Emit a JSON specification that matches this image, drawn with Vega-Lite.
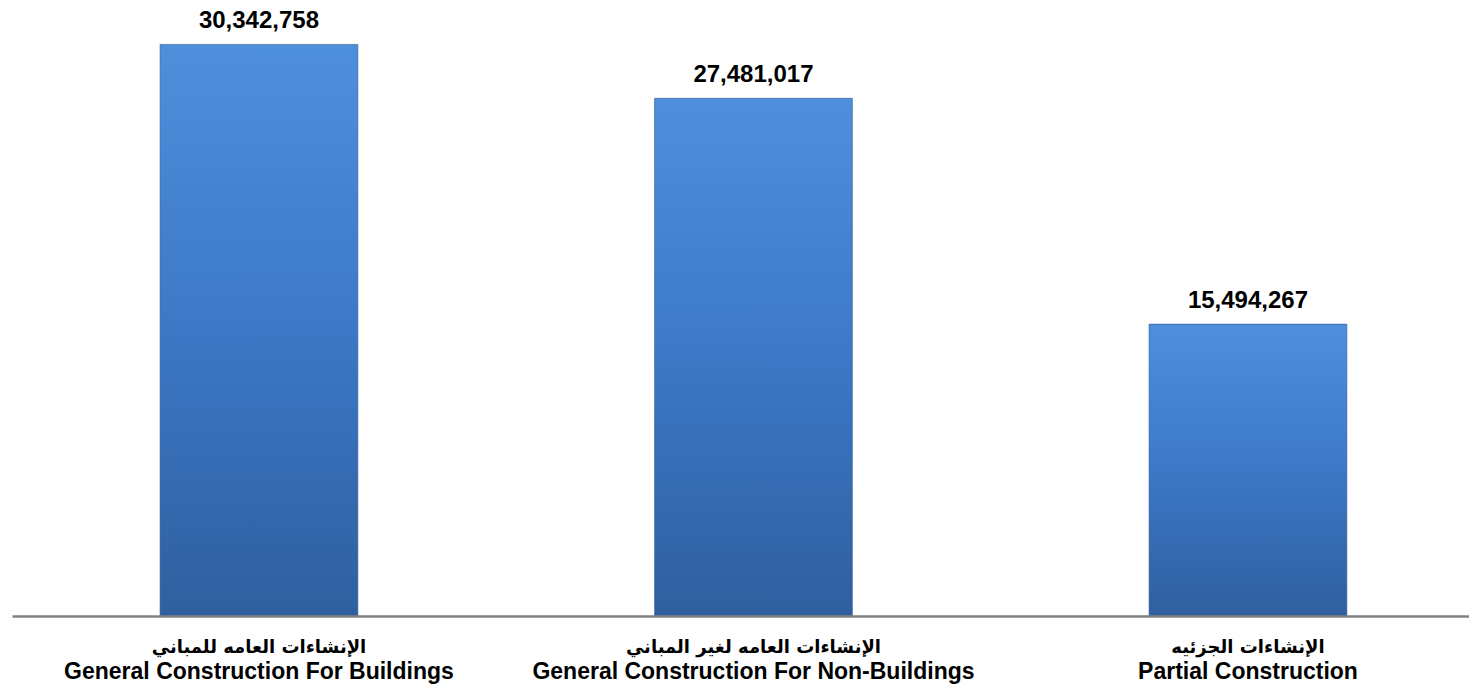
{
  "$schema": "https://vega.github.io/schema/vega-lite/v6.json",
  "autosize": {"type": "none"},
  "padding": {"left": 12, "top": 0, "right": 0, "bottom": 74},
  "width": 1457,
  "height": 616,
  "background": "white",
  "config": {"view": {"stroke": null}, "font": "Liberation Sans, DejaVu Sans"},
  "data": {
    "values": [
      {"category": "General Construction For Buildings", "arabic": "الإنشاءات العامه للمباني", "value": 30342758},
      {"category": "General Construction For Non-Buildings", "arabic": "الإنشاءات العامه لغير المباني", "value": 27481017},
      {"category": "Partial Construction", "arabic": "الإنشاءات الجزئيه", "value": 15494267}
    ]
  },
  "encoding": {
    "x": {
      "field": "category",
      "type": "nominal",
      "sort": null,
      "scale": {"paddingInner": 0.6, "paddingOuter": 0.2732, "align": 0.548},
      "axis": {
        "title": null,
        "labelAngle": 0,
        "labelFont": "Liberation Sans",
        "labelFontSize": 23,
        "labelFontWeight": "bold",
        "labelColor": "#000000",
        "labelPadding": 44,
        "labelBaseline": "top",
        "ticks": false,
        "domainColor": "#808080",
        "domainWidth": 2.5,
        "domainOpacity": 1,
        "labelLimit": 600,
        "zindex": 1
      }
    },
    "y": {
      "field": "value",
      "type": "quantitative",
      "scale": {"domain": [0, 32700000], "nice": false},
      "axis": null
    }
  },
  "layer": [
    {
      "mark": {
        "type": "bar",
        "color": {
          "gradient": "linear",
          "x1": 0, "y1": 0, "x2": 0, "y2": 1,
          "stops": [
            {"offset": 0, "color": "#4e8fdc"},
            {"offset": 0.5, "color": "#3c78c6"},
            {"offset": 1, "color": "#2f5f9f"}
          ]
        },
        "stroke": "#2e5d9a",
        "strokeWidth": 0.6
      }
    },
    {
      "mark": {
        "type": "text",
        "baseline": "alphabetic",
        "dy": -16,
        "fontSize": 24,
        "fontWeight": "bold",
        "font": "Liberation Sans",
        "color": "#000000"
      },
      "encoding": {
        "text": {"field": "value", "type": "quantitative", "format": ",d"}
      }
    },
    {
      "mark": {
        "type": "text",
        "baseline": "middle",
        "dy": 32,
        "fontSize": 18,
        "fontWeight": "bold",
        "font": "DejaVu Sans",
        "color": "#000000"
      },
      "encoding": {
        "y": {"datum": 0},
        "text": {"field": "arabic", "type": "nominal"}
      }
    }
  ]
}
